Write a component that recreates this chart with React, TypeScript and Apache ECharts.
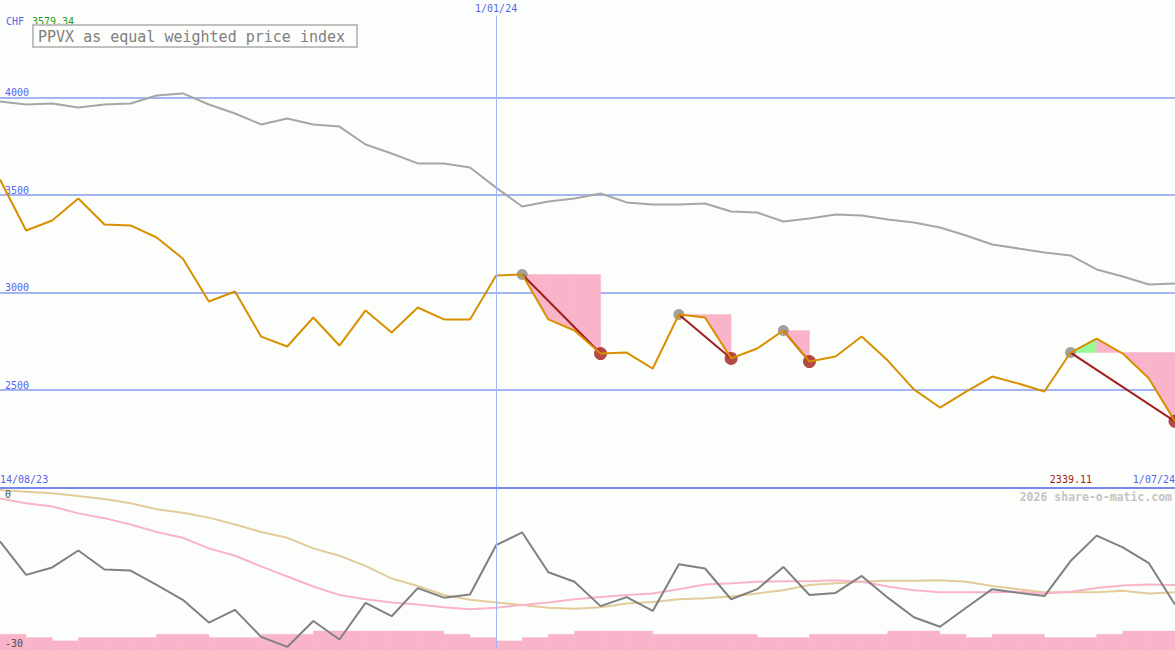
import React, { useEffect, useRef } from 'react';
import * as echarts from 'echarts';

// ---------- data ----------
const startDate = '14/08/23';
const midDate = '1/01/24';
const endDate = '1/07/24';
const midIndex = 19;
const currency = 'CHF';
const title = 'PPVX as equal weighted price index';
const footer = '2026 share-o-matic.com';

const priceIndex = [3579.34, 3318, 3369, 3482, 3349, 3344, 3282, 3174, 2954, 3005, 2774, 2723, 2872, 2728, 2908, 2795, 2923, 2862, 2862, 3087, 3092, 2862, 2805, 2687, 2692, 2610, 2887, 2872, 2662, 2713, 2805, 2646, 2672, 2774, 2651, 2503, 2410, 2492, 2569, 2533, 2492, 2692, 2764, 2687, 2559, 2339.11];
const benchmark = [3979, 3964, 3969, 3949, 3964, 3969, 4010, 4021, 3964, 3918, 3862, 3892, 3862, 3851, 3759, 3713, 3662, 3662, 3641, 3538, 3441, 3467, 3482, 3508, 3462, 3451, 3451, 3456, 3415, 3410, 3364, 3379, 3400, 3395, 3374, 3359, 3333, 3292, 3246, 3226, 3205, 3190, 3118, 3082, 3041, 3046];
const momentum = [-9.9, -16.2, -14.8, -11.6, -15.2, -15.4, -18.1, -20.9, -25.2, -22.8, -27.9, -29.8, -24.9, -28.4, -21.5, -24.0, -18.7, -20.5, -19.9, -10.6, -8.2, -15.7, -17.5, -22.1, -20.4, -23.0, -14.2, -15.0, -20.8, -18.9, -14.7, -20.0, -19.6, -16.4, -20.5, -24.2, -26.0, -22.4, -18.9, -19.6, -20.2, -13.6, -8.8, -11.0, -14.0, -21.8];
const slowAvg = [-0.2, -0.5, -0.8, -1.3, -1.9, -2.7, -3.8, -4.5, -5.4, -6.7, -8.1, -9.2, -11.2, -12.6, -14.5, -16.9, -18.3, -20.0, -20.9, -21.4, -21.9, -22.4, -22.6, -22.3, -21.6, -21.3, -20.8, -20.6, -20.3, -19.7, -19.1, -18.1, -17.8, -17.5, -17.3, -17.3, -17.2, -17.5, -18.3, -18.9, -19.5, -19.5, -19.5, -19.2, -19.7, -19.5];
const fastAvg = [-1.8, -2.7, -3.3, -4.6, -5.5, -6.7, -8.1, -9.2, -11.2, -12.6, -14.6, -16.5, -18.4, -20.0, -20.8, -21.4, -21.8, -22.3, -22.7, -22.4, -21.9, -21.4, -20.8, -20.4, -20.0, -19.7, -18.9, -18.0, -17.8, -17.5, -17.4, -17.4, -17.2, -17.5, -18.4, -19.1, -19.5, -19.5, -19.5, -19.4, -19.7, -19.4, -18.7, -18.2, -18.0, -18.1];
const ratingBars = [3, 2, 1, 2, 2, 2, 3, 3, 2, 2, 3, 3, 4, 4, 4, 4, 4, 3, 2, 1, 2, 3, 4, 4, 4, 3, 3, 3, 3, 2, 2, 3, 3, 3, 4, 4, 3, 2, 3, 3, 2, 2, 3, 4, 4];
const peakIdx = [20, 26, 30, 41];
const troughIdx = [23, 28, 31, 45];

// ---------- styles ----------
const BG = '#fcfefb';
const BLUE = '#5464f0';
const GRID = '#a4b4f4';
const DIVIDER = '#7888ee';
const ORANGE = '#d89000';
const PINK = '#f9b4c9';
const GREEN = '#98f898';
const DARKRED = '#a31c1c';
const MONO = '"DejaVu Sans Mono", monospace';

const lastIdx = priceIndex.length - 1;
const drawdowns = peakIdx.map((p, k) => [p, troughIdx[k]]);

export default function App() {
  const ref = useRef<HTMLDivElement>(null);

  useEffect(() => {
    if (!ref.current) return;
    const chart = echarts.init(ref.current, undefined, { renderer: 'svg' });

    const option: any = {
      animation: false,
      backgroundColor: BG,
      textStyle: { fontFamily: MONO },
      grid: [
        { left: 0, right: 0, top: 0, height: 487.5, outerBoundsMode: 'none' },
        { left: 0, right: 0, top: 489, height: 159, outerBoundsMode: 'none' },
        { left: 0, right: 0, top: 631, height: 19, outerBoundsMode: 'none' },
      ],
      xAxis: [
        {
          gridIndex: 0, type: 'value', min: 0, max: lastIdx, interval: lastIdx, z: 10,
          axisLine: { show: true, onZero: false, lineStyle: { color: DIVIDER, width: 2 } },
          axisTick: { show: false },
          splitLine: { show: false },
          axisLabel: {
            inside: true, margin: 3, color: BLUE, fontSize: 10, fontFamily: MONO,
            showMinLabel: true, showMaxLabel: true,
            alignMinLabel: 'left', alignMaxLabel: 'right',
            formatter: (v: number) => (v === 0 ? startDate : v === lastIdx ? endDate : ''),
          },
        },
        { gridIndex: 1, type: 'value', min: 0, max: lastIdx, show: false },
        { gridIndex: 2, type: 'value', min: 0, max: lastIdx, show: false },
      ],
      yAxis: [
        {
          gridIndex: 0, type: 'value', min: 2000, max: 4500, interval: 500,
          axisLine: { show: false }, axisTick: { show: false },
          splitLine: { show: true, showMinLine: false, showMaxLine: false, lineStyle: { color: GRID, width: 2 } },
          axisLabel: {
            inside: true, margin: 5, verticalAlign: 'bottom', color: BLUE, fontSize: 10, fontFamily: MONO,
            showMinLabel: false, showMaxLabel: false,
            formatter: (v: number) => String(v),
          },
        },
        {
          gridIndex: 1, type: 'value', min: -30, max: 0, interval: 30, z: 10,
          axisLine: { show: false }, axisTick: { show: false }, splitLine: { show: false },
          axisLabel: {
            inside: true, margin: 5, color: '#505050', fontSize: 10, fontFamily: MONO,
            showMinLabel: true, showMaxLabel: true,
            verticalAlignMinLabel: 'bottom', verticalAlignMaxLabel: 'top',
            formatter: (v: number) => String(v),
          },
        },
        { gridIndex: 2, type: 'value', min: -1.75, max: 4, show: false },
      ],
      series: [
        {
          type: 'line', xAxisIndex: 0, yAxisIndex: 0, z: 2,
          data: benchmark.map((v, i) => [i, v]),
          symbol: 'none', lineStyle: { color: '#a6a6a6', width: 2 }, itemStyle: { color: '#a6a6a6' },
          markLine: {
            silent: true, symbol: 'none',
            lineStyle: { color: GRID, width: 1, type: 'solid' },
            label: { show: true, position: 'start', distance: 2, formatter: midDate, color: BLUE, fontSize: 10, fontFamily: MONO },
            data: [[{ coord: [midIndex, 4420] }, { coord: [midIndex, 2000] }]],
          },
        },
        {
          type: 'custom', xAxisIndex: 0, yAxisIndex: 0, z: 1,
          data: drawdowns,
          renderItem: (params: any, api: any) => {
            const [p, t] = drawdowns[params.dataIndex];
            const level = priceIndex[p];
            const children: any[] = [];
            for (let i = p; i < t; i++) {
              const a = api.coord([i, level]);
              const b = api.coord([i, priceIndex[i]]);
              const c = api.coord([i + 1, priceIndex[i + 1]]);
              const d = api.coord([i + 1, level]);
              const col = priceIndex[i + 1] > priceIndex[i] ? GREEN : PINK;
              children.push({
                type: 'polygon', shape: { points: [a, b, c, d] },
                style: { fill: col, stroke: col, lineWidth: 0.5 },
              });
            }
            return { type: 'group', children };
          },
        },
        {
          type: 'scatter', xAxisIndex: 0, yAxisIndex: 0, z: 2,
          data: peakIdx.map((i) => [i, priceIndex[i]]),
          symbol: 'circle', symbolSize: 11, itemStyle: { color: '#888888' },
        },
        {
          type: 'scatter', xAxisIndex: 0, yAxisIndex: 0, z: 2,
          data: troughIdx.map((i) => [i, priceIndex[i]]),
          symbol: 'circle', symbolSize: 13, itemStyle: { color: DARKRED },
        },
        {
          type: 'custom', xAxisIndex: 0, yAxisIndex: 0, z: 3,
          data: drawdowns,
          renderItem: (params: any, api: any) => {
            const [p, t] = drawdowns[params.dataIndex];
            const a = api.coord([p, priceIndex[p]]);
            const b = api.coord([t, priceIndex[t]]);
            return {
              type: 'line', shape: { x1: a[0], y1: a[1], x2: b[0], y2: b[1] },
              style: { stroke: DARKRED, lineWidth: 2 },
            };
          },
        },
        {
          type: 'line', xAxisIndex: 0, yAxisIndex: 0, z: 4,
          data: priceIndex.map((v, i) => [i, v]),
          symbol: 'none', lineStyle: { color: ORANGE, width: 2 }, itemStyle: { color: ORANGE },
        },
        {
          type: 'line', xAxisIndex: 1, yAxisIndex: 1, z: 1,
          data: [],
          markLine: {
            silent: true, symbol: 'none',
            lineStyle: { color: GRID, width: 1, type: 'solid' },
            label: { show: false },
            data: [{ xAxis: midIndex }],
          },
        },
        {
          type: 'custom', xAxisIndex: 2, yAxisIndex: 2, z: 2,
          data: ratingBars.map((v, i) => [i, v]),
          renderItem: (params: any, api: any) => {
            const i = api.value(0);
            const v = api.value(1);
            const p1 = api.coord([i, v]);
            const p2 = api.coord([i + 1, -1.75]);
            return {
              type: 'rect',
              shape: { x: p1[0], y: p1[1], width: p2[0] - p1[0], height: p2[1] - p1[1] },
              style: { fill: PINK, stroke: PINK, lineWidth: 0.5 },
            };
          },
        },
        {
          type: 'line', xAxisIndex: 1, yAxisIndex: 1, z: 3,
          data: slowAvg.map((v, i) => [i, v]),
          symbol: 'none', lineStyle: { color: '#e3cc9c', width: 2 }, itemStyle: { color: '#e3cc9c' },
        },
        {
          type: 'line', xAxisIndex: 1, yAxisIndex: 1, z: 3,
          data: fastAvg.map((v, i) => [i, v]),
          symbol: 'none', lineStyle: { color: PINK, width: 2 }, itemStyle: { color: PINK },
        },
        {
          type: 'line', xAxisIndex: 1, yAxisIndex: 1, z: 4,
          data: momentum.map((v, i) => [i, v]),
          symbol: 'none', lineStyle: { color: '#808080', width: 2 }, itemStyle: { color: '#808080' },
        },
      ],
      graphic: [
        { type: 'text', x: 6, y: 21, style: { text: currency, fill: BLUE, fontSize: 10, fontFamily: MONO, verticalAlign: 'middle' } },
        { type: 'text', x: 32, y: 21, style: { text: String(priceIndex[0]), fill: '#1e9a1e', fontSize: 10, fontFamily: MONO, verticalAlign: 'middle' } },
        { type: 'rect', shape: { x: 33, y: 25, width: 324, height: 22 }, style: { fill: 'none', stroke: '#c0c0c0', lineWidth: 2 } },
        { type: 'text', x: 38, y: 36.5, style: { text: title, fill: '#808080', fontSize: 15, fontFamily: MONO, verticalAlign: 'middle' } },
        { type: 'text', x: 1092, y: 479.5, style: { text: priceIndex[lastIdx].toFixed(2), fill: DARKRED, fontSize: 10, fontFamily: MONO, align: 'right', verticalAlign: 'middle' } },
        { type: 'text', x: 1172, y: 496.5, style: { text: footer, fill: '#c4c4c4', fontSize: 11.5, fontWeight: 'bold', fontFamily: MONO, align: 'right', verticalAlign: 'middle' } },
      ],
    };

    chart.setOption(option);
    return () => chart.dispose();
  }, []);

  return (
    <div
      ref={ref}
      style={{ position: 'fixed', left: 0, top: 0, width: 1175, height: 650 }}
    />
  );
}
